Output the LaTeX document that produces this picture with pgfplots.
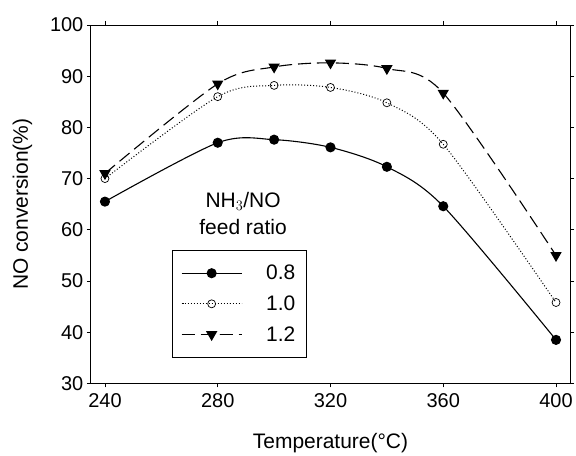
\documentclass[border=0pt]{standalone}
\usepackage{fontspec}
\setmainfont{Liberation Sans}
\usepackage{pgfplots}
\pgfplotsset{compat=1.18}

\begin{document}
\begin{tikzpicture}
\begin{axis}[
    name=ax,
    scale only axis,
    width=480pt, height=359pt,
    xmin=235, xmax=405,
    ymin=30, ymax=100,
    xtick={240,280,320,360,400},
    ytick={30,40,50,60,70,80,90,100},
    tick align=outside,
    major tick length=4pt,
    tick style={black, line width=0.6pt},
    axis line style={line width=0.8pt},
    every tick label/.append style={font=\fontsize{20}{22}\selectfont},
    /pgf/number format/assume math mode=true,
    /pgf/number format/1000 sep={},
    xticklabel style={yshift=-3pt},
    xlabel={Temperature(°C)},
    ylabel={NO conversion(\%)},
    label style={font=\fontsize{21}{24}\selectfont},
    xlabel style={yshift=-18pt},
    ylabel style={yshift=11pt},
    legend cell align=left,
    legend style={at={(axis cs:263.7,56.0)}, anchor=north west,
        draw=black, line width=0.8pt, font=\fontsize{21}{24}\selectfont,
        row sep=10.5pt, inner xsep=9pt, inner ysep=12.5pt},
    legend image code/.code={%
        \draw[mark repeat=2,mark phase=2] plot coordinates {(0pt,0pt) (30pt,0pt) (60pt,0pt)};},
]
\addplot[black, line width=1.1pt, smooth, mark=*, mark size=4.5pt,
    mark options={solid, fill=black}] coordinates {
    (240,65.5) (280,77.0) (300,77.6) (320,76.1) (340,72.3) (360,64.6) (400,38.5)
};
\addlegendentry{\hspace{22pt}0.8\hspace{12pt}}
\addplot[black, line width=1.0pt, smooth, dotted, mark=o, mark size=4pt,
    mark options={solid, fill=white, line width=0.7pt}] coordinates {
    (240,70.0) (280,86.0) (300,88.2) (320,87.8) (340,84.8) (360,76.7) (400,45.8)
};
\addlegendentry{\hspace{22pt}1.0\hspace{12pt}}
\addplot[black, line width=1.1pt, smooth, dash pattern=on 13pt off 6pt,
    mark=triangle*, mark size=5.5pt,
    mark options={solid, fill=black, rotate=180}] coordinates {
    (240,71.0) (280,88.5) (300,91.8) (320,92.6) (340,91.5) (360,86.7) (400,55.0)
};
\addlegendentry{\hspace{22pt}1.2\hspace{12pt}}
\node[font=\fontsize{21}{24}\selectfont] at (axis cs:289,65.5) {NH$_3$/NO};
\node[font=\fontsize{21}{24}\selectfont] at (axis cs:289,60.6) {feed ratio};
\end{axis}
\path[use as bounding box] ([shift={(-91pt,-66pt)}]ax.south west) rectangle ([shift={(485pt,384pt)}]ax.south west);
\end{tikzpicture}
\end{document}
